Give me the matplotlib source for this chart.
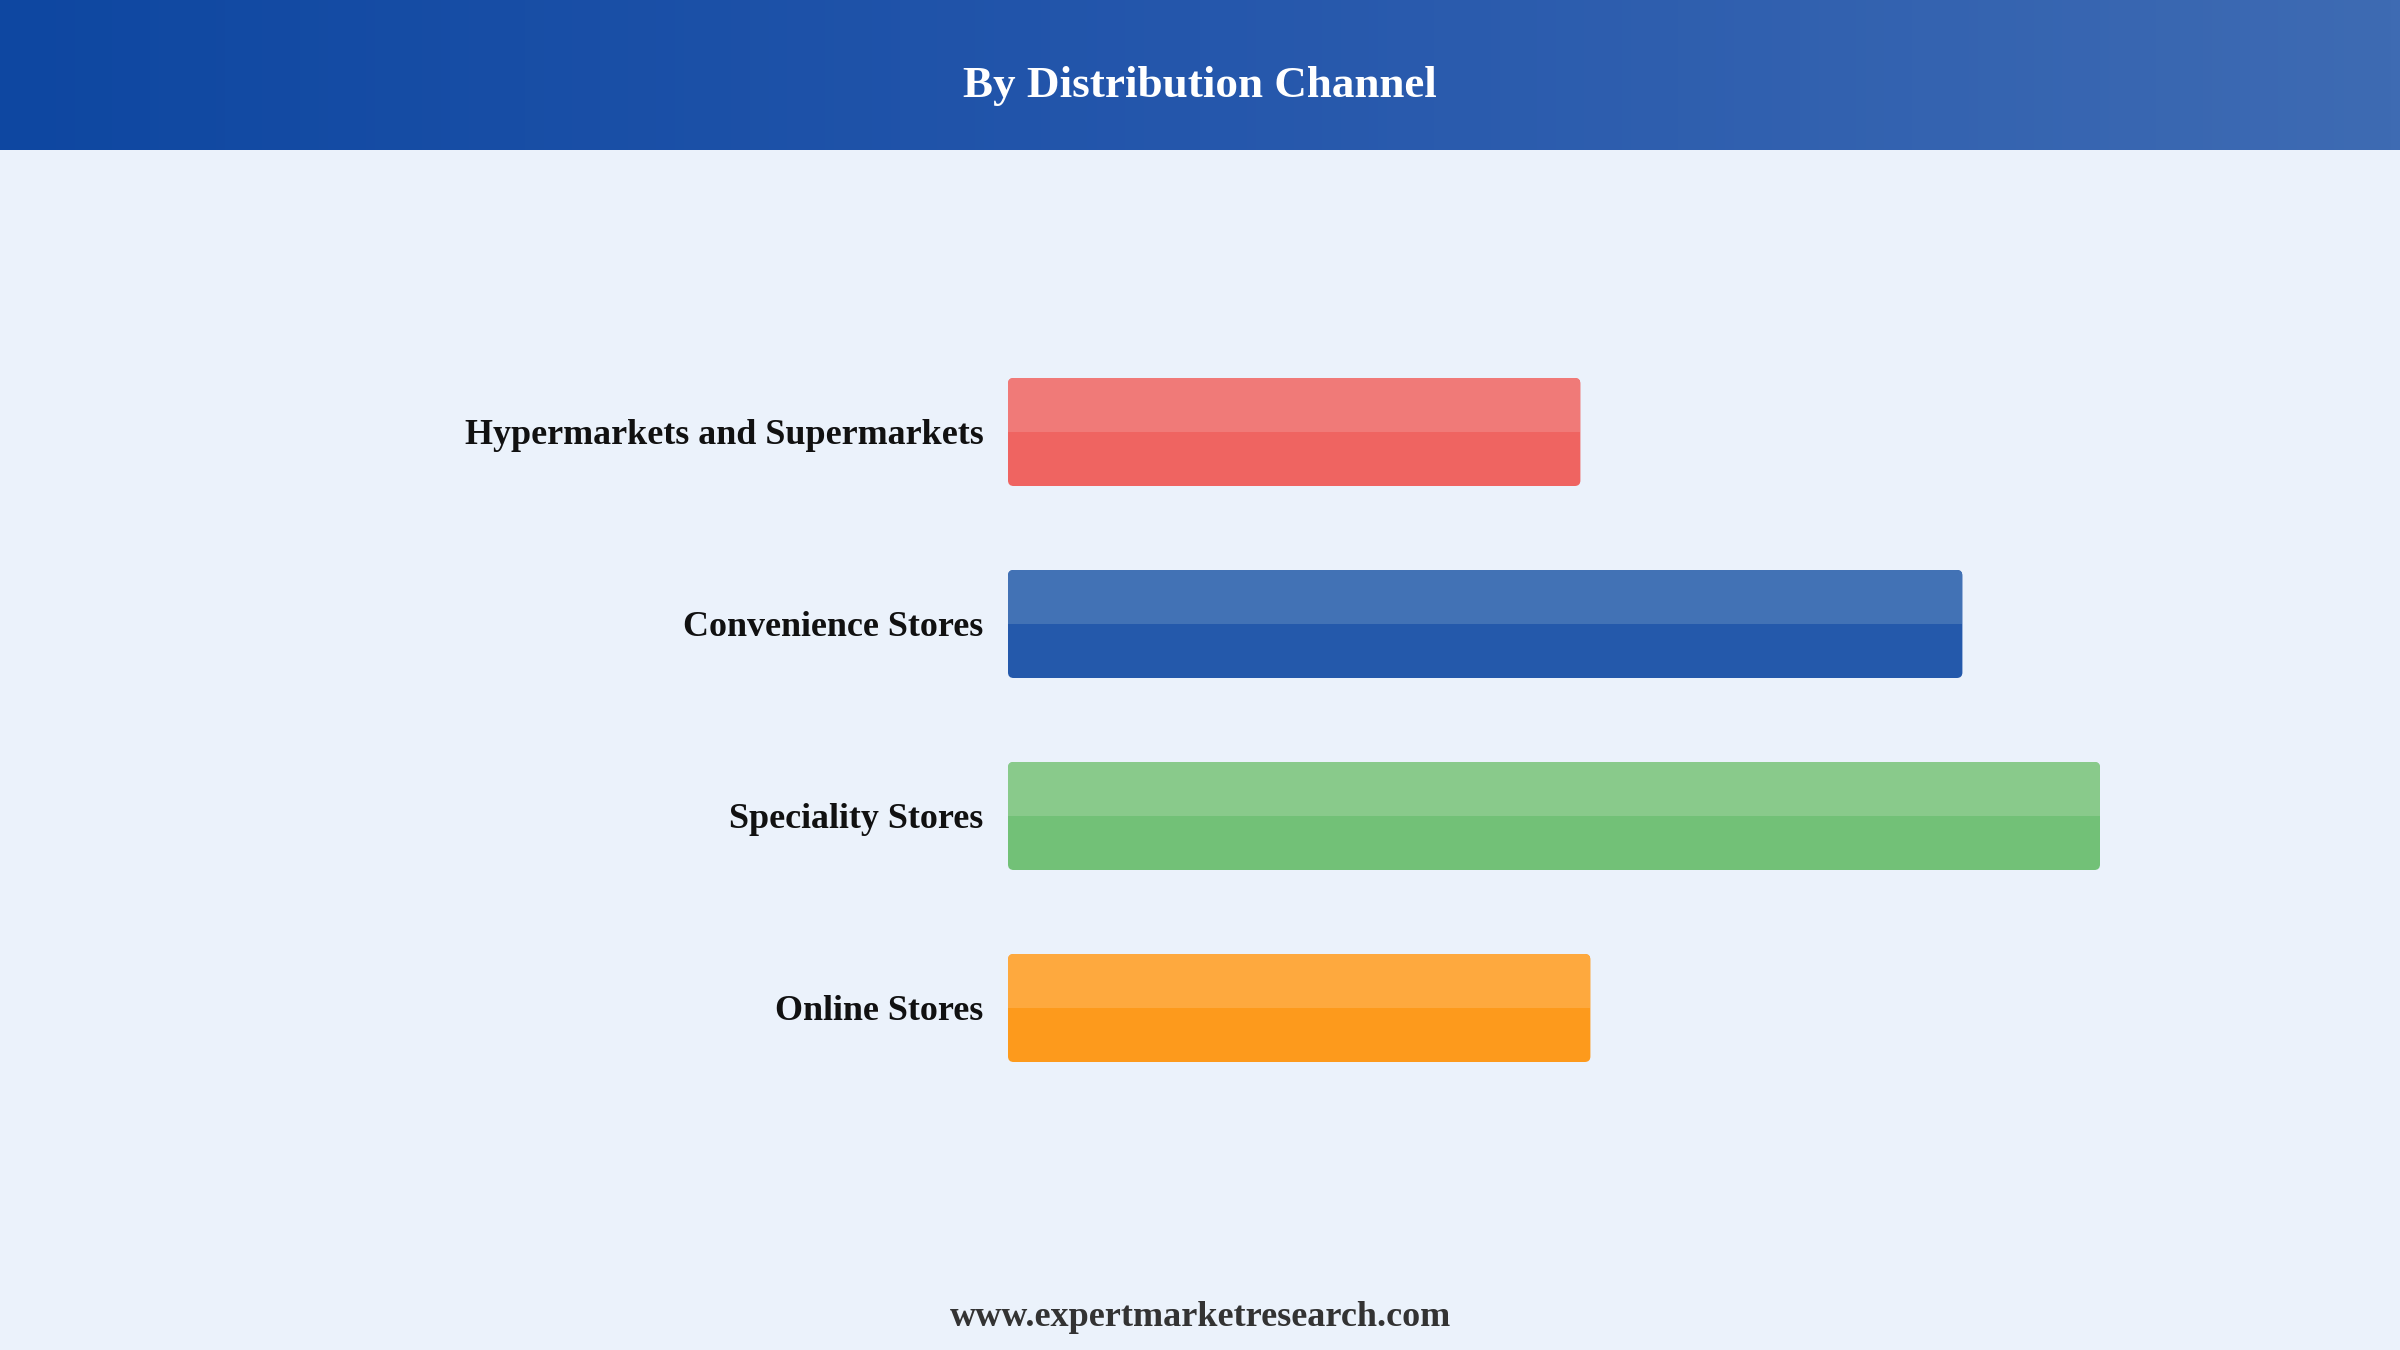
import matplotlib.pyplot as plt
import numpy as np
from matplotlib.colors import LinearSegmentedColormap
from matplotlib.patches import FancyBboxPatch, Rectangle

# data (bar lengths, arbitrary units)
channels = ["Hypermarkets and Supermarkets", "Convenience Stores",
            "Speciality Stores", "Online Stores"]
values = [28.62, 47.72, 54.6, 29.12]
dark_colors = ["#EF6461", "#2459AB", "#72C177", "#FD9A1C"]
light_colors = ["#F07A78", "#4272B5", "#89CA8B", "#FEA93E"]

title = "By Distribution Channel"
footer = "www.expertmarketresearch.com"

W, H = 2400, 1350
BAR_H = 0.5625
serif = ["Liberation Serif", "DejaVu Serif"]

fig = plt.figure(figsize=(W / 100, H / 100), dpi=100)
fig.patch.set_facecolor("#EBF2FB")

ax = fig.add_axes([1008 / W, 0, 2000 / W, 1])
ax.set_facecolor("none")
ax.set_xlim(0, 100)
ax.set_ylim(4.78125, -2.25)
for s in ax.spines.values():
    s.set_visible(False)
ax.set_xticks([])
ax.set_yticks(range(len(channels)), channels)
ax.tick_params(axis="y", length=0, pad=17.5)
for lbl in ax.get_yticklabels():
    lbl.set_fontfamily(serif)
    lbl.set_fontweight("bold")
    lbl.set_fontsize(25.9)
    lbl.set_color("#111111")

# x units per px = 0.05, y units per px = 1/192
aspect = 20 / 192
for i, (v, c_dark, c_light) in enumerate(zip(values, dark_colors, light_colors)):
    y0 = i - BAR_H / 2
    box = FancyBboxPatch((0, y0), v, BAR_H, boxstyle="round,pad=0,rounding_size=0.28",
                         mutation_aspect=aspect, fc=c_dark, ec="none")
    ax.add_patch(box)
    top = FancyBboxPatch((0, y0), v, BAR_H, boxstyle="round,pad=0,rounding_size=0.28",
                         mutation_aspect=aspect, fc=c_light, ec="none")
    ax.add_patch(top)
    top.set_clip_path(Rectangle((0, y0), v, BAR_H / 2, transform=ax.transData))

# header band with gradient
hax = fig.add_axes([0, 1 - 150 / H, 1, 150 / H])
cmap = LinearSegmentedColormap.from_list("hdr", ["#0E47A1", "#2557AC", "#3E6BB3"])
hax.imshow(np.linspace(0, 1, 256)[None, :], aspect="auto", cmap=cmap,
           extent=[0, 1, 0, 1])
hax.axis("off")
hax.text(0.5, 0.43, title, ha="center", va="center", color="white",
         fontsize=32.5, fontweight="bold", family=serif, transform=hax.transAxes)

fig.text(0.5, 1 - 1318 / H, footer, ha="center", va="center", color="#333333",
         fontsize=26, fontweight="bold", family=serif)

fig.savefig("out.png", dpi=100, facecolor=fig.get_facecolor())
